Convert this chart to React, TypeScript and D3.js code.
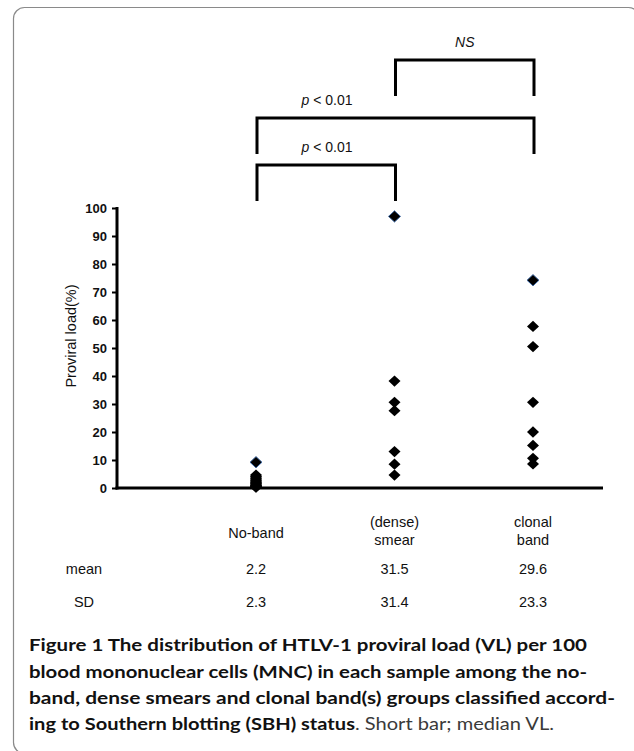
import React, { useEffect, useRef } from 'react';
import * as d3 from 'd3';

// groups on the x axis
const categories = ['No-band', 'smear', 'clonal'];
const categoryLabels = [['No-band'], ['(dense)', 'smear'], ['clonal', 'band']];

// proviral load (%)
const noBandValues = [9.2, 4.6, 4.1, 3.6, 3.2, 2.8, 2.4, 2.0, 1.7, 1.4, 1.1, 0.9, 0.7, 0.5, 0.4, 0.3];
const smearValues = [97, 38.2, 30.6, 27.6, 13.0, 8.5, 4.6];
const clonalValues = [74.2, 57.7, 50.5, 30.6, 20.0, 15.2, 10.6, 8.6];
// the top point of each group has the blue outline
const highlightValues = [9.2, 97, 74.2];

const meanValues = ['2.2', '31.5', '29.6'];
const sdValues = ['2.3', '31.4', '23.3'];
const yTicks = [0, 10, 20, 30, 40, 50, 60, 70, 80, 90, 100];

// brackets: [from, to, label]
const comparisons: [string, string, string][] = [
  ['smear', 'clonal', 'NS'],
  ['No-band', 'clonal', 'p < 0.01'],
  ['No-band', 'smear', 'p < 0.01'],
];

const captionBold = [
  'Figure 1 The distribution of HTLV-1 proviral load (VL) per 100',
  'blood mononuclear cells (MNC) in each sample among the no-',
  'band, dense smears and clonal band(s) groups classified accord-',
];
const captionLastBold = 'ing to Southern blotting (SBH) status';
const captionLastRegular = '. Short bar; median VL.';

const App: React.FC = () => {
  const svgRef = useRef<SVGSVGElement>(null);

  useEffect(() => {
    document.body.style.margin = '0';
    if (!svgRef.current) return;

    const width = 634;
    const height = 751;
    const svg = d3.select(svgRef.current)
      .attr('width', width)
      .attr('height', height)
      .html('');

    const font = '"Liberation Sans", Arial, sans-serif';

    // frame
    svg.append('rect')
      .attr('x', 13.5).attr('y', 7.5)
      .attr('width', 626).attr('height', 746)
      .attr('rx', 11)
      .attr('fill', 'none')
      .attr('stroke', '#8a8a8a')
      .attr('stroke-width', 1.2);

    const axisLeft = 117;
    const axisRight = 603;
    const x = d3.scalePoint<string>().domain(categories).range([256, 533]);
    const y = d3.scaleLinear().domain([0, 100]).range([488, 208]);

    // y axis
    const yAxis = svg.append('g')
      .attr('transform', `translate(${axisLeft},0)`)
      .call(d3.axisLeft(y).tickValues(yTicks).tickSize(5).tickPadding(5));
    yAxis.select('.domain').remove();
    yAxis.selectAll('.tick line').attr('stroke', '#000').attr('stroke-width', 2);
    yAxis.selectAll('.tick text')
      .attr('font-family', font)
      .attr('font-size', 13)
      .attr('font-weight', 'bold')
      .attr('fill', '#111');

    svg.append('line')
      .attr('x1', axisLeft).attr('x2', axisLeft)
      .attr('y1', y(100) - 1).attr('y2', y(0) + 1.5)
      .attr('stroke', '#000').attr('stroke-width', 3);
    svg.append('line')
      .attr('x1', axisLeft - 1.5).attr('x2', axisRight)
      .attr('y1', y(0)).attr('y2', y(0))
      .attr('stroke', '#000').attr('stroke-width', 3);

    svg.append('text')
      .attr('transform', `translate(76,${(y(0) + y(100)) / 2 - 12}) rotate(-90)`)
      .attr('text-anchor', 'middle')
      .attr('font-family', font)
      .attr('font-size', 14.5)
      .attr('fill', '#111')
      .text('Proviral load(%)');

    // points: squares turned 45 degrees
    const marker = d3.symbol().type(d3.symbolSquare).size(72);
    const groups = [noBandValues, smearValues, clonalValues];
    groups.forEach((vals, i) => {
      svg.append('g')
        .selectAll('path')
        .data(vals)
        .join('path')
        .attr('transform', d => `translate(${x(categories[i])},${y(d)}) scale(1,0.94) rotate(45)`)
        .attr('d', marker)
        .attr('fill', '#000')
        .attr('stroke', d => (highlightValues.includes(d) ? '#3d6aa8' : 'none'))
        .attr('stroke-width', 0.9);
    });

    // significance brackets
    const bracketY = [60, 118, 165];
    const bracketDrop = 36;
    comparisons.forEach(([a, b, label], i) => {
      const x1 = x(a)! + 1;
      const x2 = x(b)! + 1;
      const by = bracketY[i];
      svg.append('path')
        .attr('d', `M${x1},${by + bracketDrop}V${by}H${x2}V${by + bracketDrop}`)
        .attr('fill', 'none')
        .attr('stroke', '#000')
        .attr('stroke-width', 3);
      const t = svg.append('text')
        .attr('x', label === 'NS' ? (x1 + x2) / 2 : 327)
        .attr('y', by - 13)
        .attr('text-anchor', 'middle')
        .attr('font-family', font)
        .attr('font-size', 14)
        .attr('fill', '#111');
      if (label === 'NS') {
        t.attr('font-style', 'italic').text('NS');
      } else {
        t.append('tspan').attr('font-style', 'italic').text('p');
        t.append('tspan').text(' < 0.01');
      }
    });

    // category labels
    categoryLabels.forEach((lines, i) => {
      const cx = x(categories[i])!;
      const t = svg.append('text')
        .attr('text-anchor', 'middle')
        .attr('font-family', font)
        .attr('font-size', 14.5)
        .attr('fill', '#111');
      if (lines.length === 1) {
        t.append('tspan').attr('x', cx).attr('y', 538).text(lines[0]);
      } else {
        lines.forEach((l, j) => {
          t.append('tspan').attr('x', cx).attr('y', 527 + j * 18).text(l);
        });
      }
    });

    // mean / SD rows
    const rows: [string, string[], number][] = [
      ['mean', meanValues, 574],
      ['SD', sdValues, 607],
    ];
    rows.forEach(([name, vals, ry]) => {
      svg.append('text')
        .attr('x', 84).attr('y', ry)
        .attr('text-anchor', 'middle')
        .attr('font-family', font)
        .attr('font-size', 14.5)
        .attr('fill', '#111')
        .text(name);
      vals.forEach((v, i) => {
        svg.append('text')
          .attr('x', x(categories[i])!).attr('y', ry)
          .attr('text-anchor', 'middle')
          .attr('font-family', font)
          .attr('font-size', 14.5)
          .attr('fill', '#111')
          .text(v);
      });
    });

    // caption
    const capFont = 'Lato, "Open Sans", sans-serif';
    const capX = 29;
    const capY = [651, 677.5, 704, 730];
    const capEnds = [587, 587, 615];
    captionBold.forEach((line, i) => {
      svg.append('text')
        .attr('x', capX).attr('y', capY[i])
        .attr('font-family', capFont)
        .attr('font-size', 17.5)
        .attr('font-weight', 'bold')
        .attr('fill', '#111')
        .attr('textLength', capEnds[i] - capX)
        .attr('lengthAdjust', 'spacingAndGlyphs')
        .text(line);
    });
    const last = svg.append('text')
      .attr('x', capX).attr('y', capY[3])
      .attr('font-family', capFont)
      .attr('font-size', 17.5)
      .attr('fill', '#111')
      .attr('textLength', 554 - capX)
      .attr('lengthAdjust', 'spacingAndGlyphs');
    last.append('tspan').attr('font-weight', 'bold').text(captionLastBold);
    last.append('tspan').attr('fill', '#3a3a3a').text(captionLastRegular);
  }, []);

  return <svg ref={svgRef} style={{ display: 'block', background: '#fff' }} />;
};

export default App;
